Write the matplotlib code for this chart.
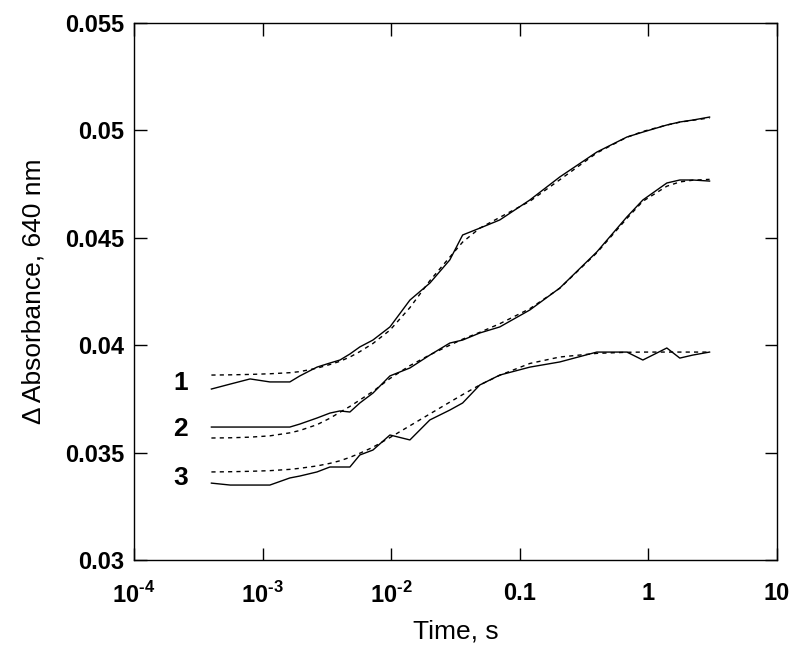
import numpy as np
import matplotlib
matplotlib.use('Agg')
from matplotlib import pyplot as plt
from matplotlib.ticker import FixedLocator, FixedFormatter, NullLocator

plt.rcParams['font.family'] = ['Liberation Sans', 'DejaVu Sans']
plt.rcParams['mathtext.fontset'] = 'custom'
plt.rcParams['mathtext.rm'] = 'Liberation Sans:bold'
plt.rcParams['mathtext.bf'] = 'Liberation Sans:bold'

# time points, s
t = [4.0e-4, 5.6e-4, 8.0e-4, 1.14e-3, 1.63e-3, 1.95e-3, 2.65e-3, 3.34e-3,
     4.0e-3, 4.78e-3, 5.71e-3, 7.22e-3, 9.79e-3, 0.0140, 0.020, 0.0286,
     0.036, 0.049, 0.070, 0.120, 0.205, 0.398, 0.682, 0.908, 1.395, 1.76,
     2.22, 3.0]

# measured traces
trace1 = [0.03796, 0.03819, 0.03843, 0.03829, 0.03829, 0.03857, 0.03898, 0.03917,
          0.03931, 0.03959, 0.03992, 0.04024, 0.04085, 0.04210, 0.04289, 0.04397,
          0.04513, 0.04545, 0.04583, 0.04676, 0.04783, 0.04899, 0.04969, 0.04992,
          0.05025, 0.05039, 0.05048, 0.05062]
trace2 = [0.03619, 0.03619, 0.03619, 0.03619, 0.03619, 0.03633, 0.03661, 0.03684,
          0.03694, 0.03689, 0.03731, 0.03777, 0.03857, 0.03894, 0.03954, 0.04010,
          0.04024, 0.04057, 0.04085, 0.04164, 0.04266, 0.04434, 0.04597, 0.04676,
          0.04755, 0.04769, 0.04769, 0.04764]
trace3 = [0.03358, 0.03349, 0.03349, 0.03349, 0.03382, 0.03391, 0.03410, 0.03433,
          0.03433, 0.03433, 0.03489, 0.03512, 0.03582, 0.03559, 0.03652, 0.03698,
          0.03731, 0.03815, 0.03861, 0.03898, 0.03922, 0.03968, 0.03968, 0.03931,
          0.03987, 0.03940, 0.03954, 0.03968]

# fitted curves
fit1 = [0.03861, 0.03862, 0.03864, 0.03867, 0.03872, 0.03877, 0.03893, 0.03910,
        0.03925, 0.03945, 0.03970, 0.04008, 0.04070, 0.04175, 0.04300, 0.04410,
        0.04480, 0.04545, 0.04595, 0.04670, 0.04770, 0.04895, 0.04968, 0.04995,
        0.05025, 0.05038, 0.05047, 0.05058]
fit2 = [0.03568, 0.03569, 0.03572, 0.03578, 0.03592, 0.03603, 0.03630, 0.03660,
        0.03688, 0.03715, 0.03745, 0.03785, 0.03845, 0.03905, 0.03955, 0.04000,
        0.04028, 0.04060, 0.04100, 0.04170, 0.04265, 0.04430, 0.04590, 0.04670,
        0.04740, 0.04760, 0.04768, 0.04772]
fit3 = [0.03410, 0.03411, 0.03413, 0.03416, 0.03422, 0.03427, 0.03438, 0.03450,
        0.03462, 0.03478, 0.03497, 0.03525, 0.03570, 0.03625, 0.03680, 0.03735,
        0.03770, 0.03815, 0.03860, 0.03915, 0.03945, 0.03962, 0.03967, 0.03968,
        0.03968, 0.03968, 0.03968, 0.03968]

curve_labels = ['1', '2', '3']
label_t = 2.3e-4
label_y = [0.03824, 0.0361, 0.03382]

xticks = [1e-4, 1e-3, 1e-2, 0.1, 1, 10]
xticklabels = [r'$10^{\text{-}4}$', r'$10^{\text{-}3}$', r'$10^{\text{-}2}$', '0.1', '1', '10']
yticks = [0.03, 0.035, 0.04, 0.045, 0.05, 0.055]
yticklabels = ['0.03', '0.035', '0.04', '0.045', '0.05', '0.055']

fig = plt.figure(figsize=(8, 6.56), dpi=100)
ax = fig.add_axes([0.1675, 0.1463, 0.8035, 0.8187])

for tr in (trace1, trace2, trace3):
    ax.plot(t, tr, color='black', lw=1.0)
for ft in (fit1, fit2, fit3):
    ax.plot(t, ft, color='black', lw=1.0, ls=(0, (3, 3)))

for lab, yy in zip(curve_labels, label_y):
    ax.text(label_t, yy, lab, fontsize=19, fontweight='bold', ha='center', va='center')

ax.set_xscale('log')
ax.set_xlim(1e-4, 10)
ax.set_ylim(0.03, 0.055)
ax.xaxis.set_major_locator(FixedLocator(xticks))
ax.xaxis.set_major_formatter(FixedFormatter(xticklabels))
ax.xaxis.set_minor_locator(NullLocator())
ax.set_yticks(yticks)
ax.set_yticklabels(yticklabels)

ax.tick_params(which='both', direction='in', top=True, right=True,
               length=9, width=1, labelsize=17)
ax.tick_params(axis='x', pad=16)
ax.tick_params(axis='y', pad=7)
for lab in ax.get_xticklabels() + ax.get_yticklabels():
    lab.set_fontweight('bold')
for s in ax.spines.values():
    s.set_linewidth(1)

ax.set_xlabel('Time, s', fontsize=19, labelpad=8)
ax.set_ylabel('\u0394 Absorbance, 640 nm', fontsize=19, labelpad=14)

fig.savefig('out.png', dpi=100)
